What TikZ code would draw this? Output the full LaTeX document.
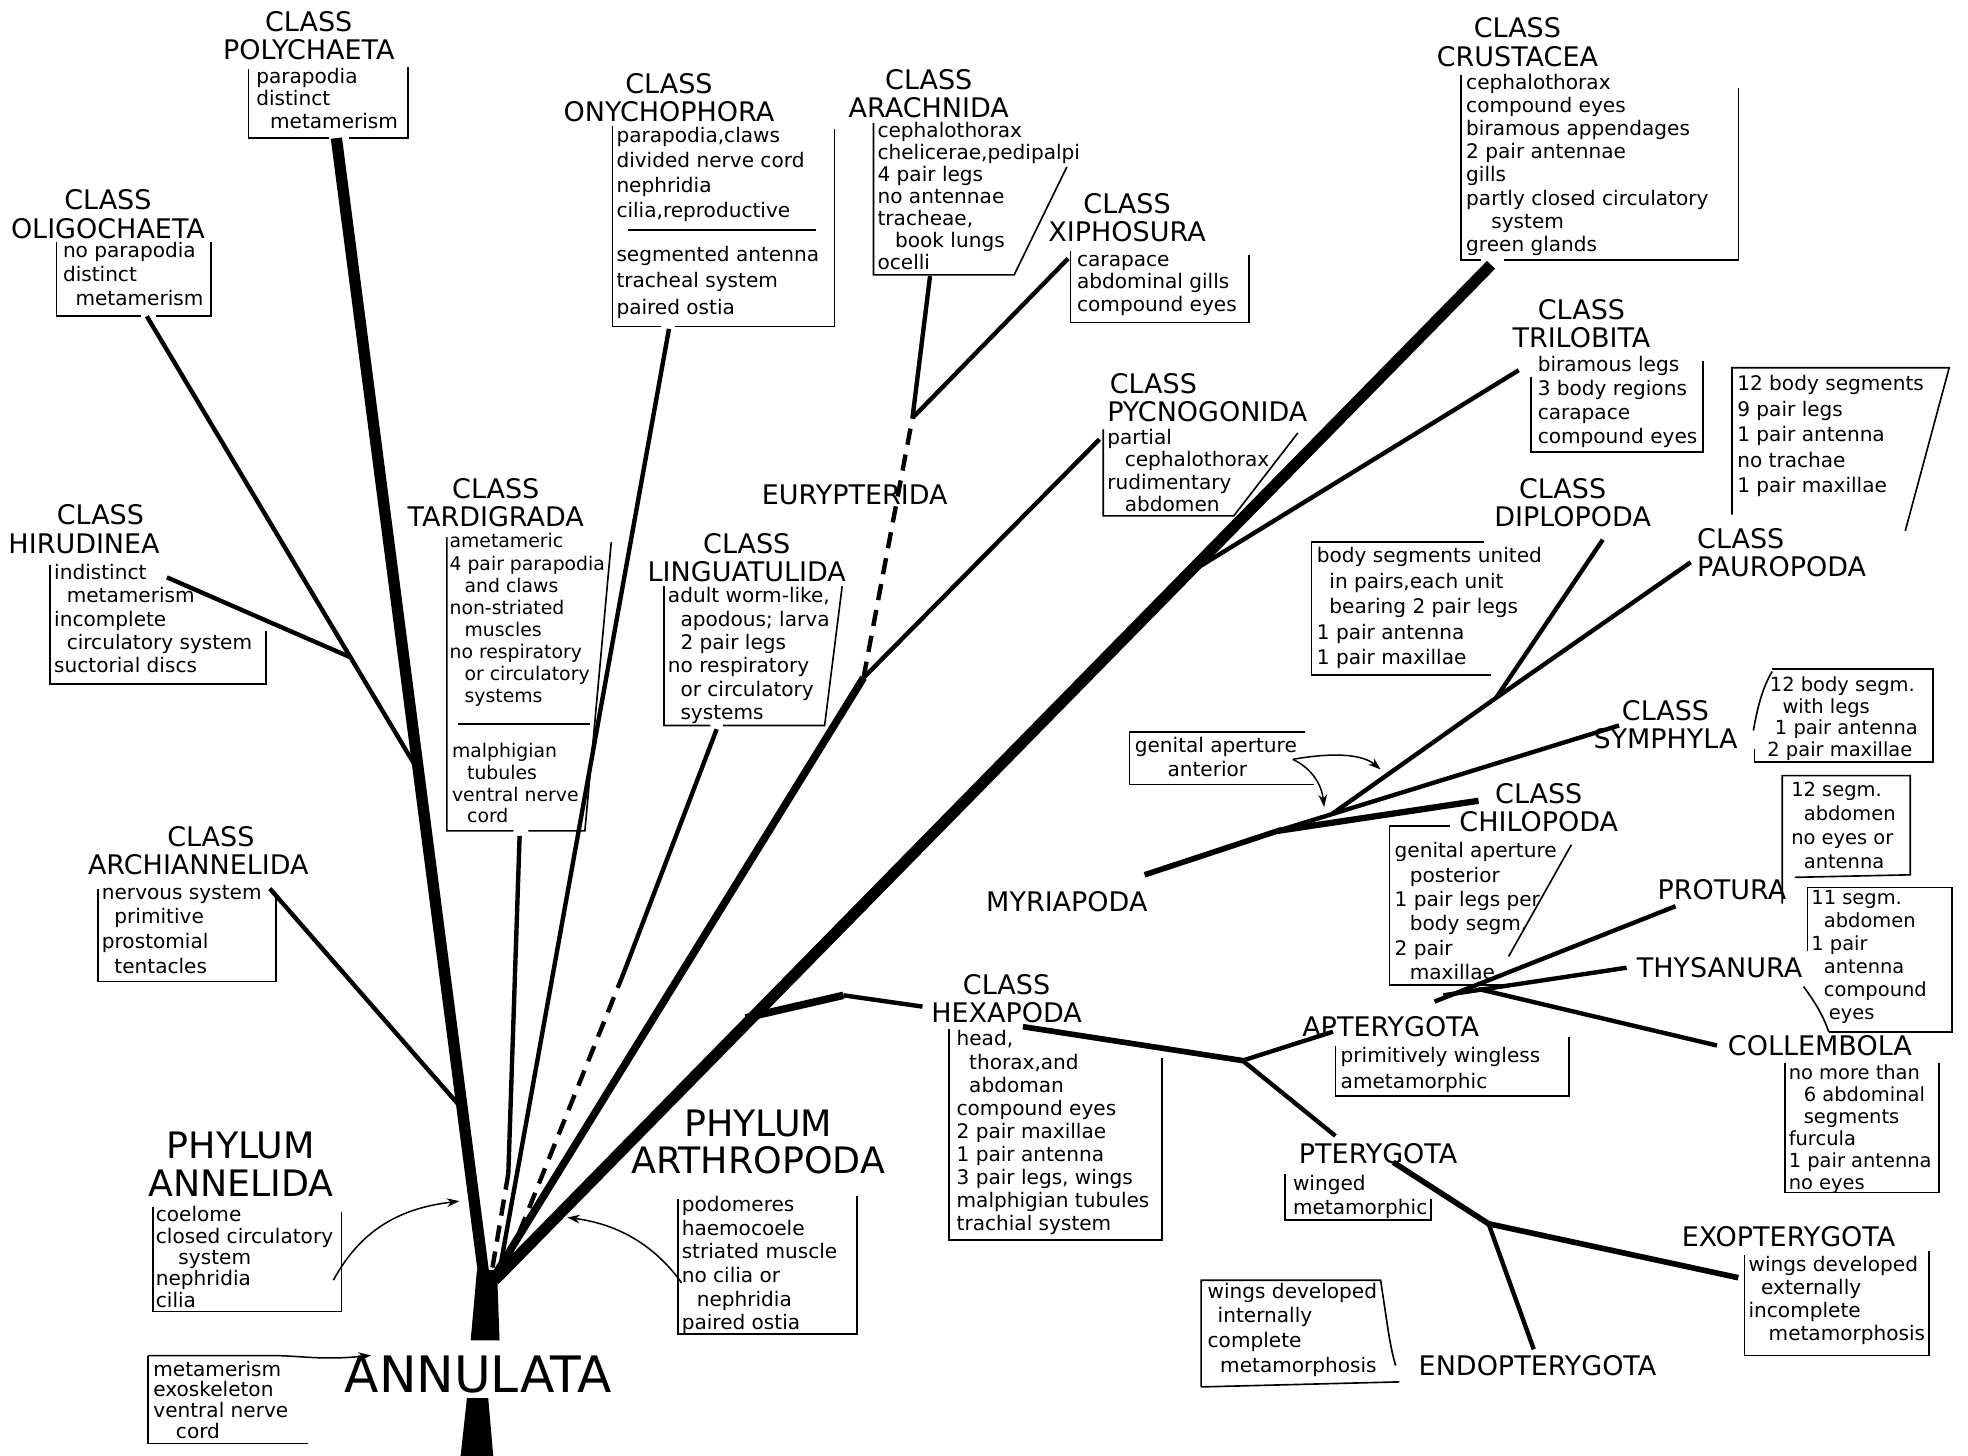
\documentclass[tikz,border=0pt]{standalone}
\usepackage{fontspec}
\setmainfont{DejaVu Sans}
\usetikzlibrary{arrows.meta}

\tikzset{
  title/.style={font=\fontsize{21.5}{22.5}\selectfont,align=center,anchor=north,inner sep=0pt},
  taxon/.style={font=\fontsize{21.5}{22.5}\selectfont,inner sep=0pt},
  phylum/.style={font=\fontsize{29}{30}\selectfont,align=center,anchor=north,inner sep=0pt},
  trait/.style={font=\fontsize{16}{#1}\selectfont,align=left,anchor=north west,inner sep=0pt},
  trait/.default=18.6,
  boxline/.style={line width=1.3pt},
  twig/.style={line width=3.5pt},
  limb/.style={line width=6pt},
  bough/.style={line width=9pt},
  faint/.style={line width=3.5pt,dash pattern=on 13pt off 8pt},
  pointer/.style={line width=1.2pt,-{Stealth[length=10pt,width=7pt]}}
}

\begin{document}
\begin{tikzpicture}[x=1pt,y=-1pt]

\fill[white] (0,0) rectangle (1568,1160);
\useasboundingbox (0,0) rectangle (1568,1160);

\node[title](polyT) at (246,9){CLASS\\POLYCHAETA};
\node[trait=18](polyB) at (204,54){parapodia\\distinct\\\hspace*{11pt}metamerism};
\draw[boxline] (198,55) -- (198,110) -- (262,110) (278,110) -- (325,110) -- (325,53);

\node[title](oligT) at (86,151){CLASS\\OLIGOCHAETA};
\node[trait=19](oligB) at (50,193){no parapodia\\distinct\\\hspace*{10pt}metamerism};
\draw[boxline] (45,193) -- (45,252) -- (112,252) (124,252) -- (168,252) -- (168,193);

\node[title](hiruT) at (67,402){\hspace*{26pt}CLASS\\HIRUDINEA};
\node[trait=18.7](hiruB) at (43,449){indistinct\\\hspace*{10pt}metamerism\\incomplete\\\hspace*{10pt}circulatory system\\suctorial discs};
\draw[boxline] (40,450) -- (40,545) -- (212,545) -- (212,503);

\node[title](archT) at (158,658){\hspace*{20pt}CLASS\\ARCHIANNELIDA};
\node[trait=19.7](archB) at (81,705){nervous system\\\hspace*{10pt}primitive\\prostomial\\\hspace*{10pt}tentacles};
\draw[boxline] (78,708) -- (78,782) -- (220,782) -- (220,712);

\node[phylum](anneT) at (192,902){PHYLUM\\ANNELIDA};
\node[trait=17](anneB) at (124,961){coelome\\closed circulatory\\\hspace*{18pt}system\\nephridia\\cilia};
\draw[boxline] (122,962) -- (122,1045) -- (272,1045) -- (272,966);

\node[trait=16.5](metaB) at (122,1084){metamerism\\exoskeleton\\ventral nerve\\\hspace*{18pt}cord};
\draw[boxline] (118,1080) -- (118,1150) -- (245,1150);
\node[font=\fontsize{40}{40}\selectfont,inner sep=0pt](annul) at (381,1095){ANNULATA};

\node[phylum](arthT) at (604,884){PHYLUM\\ARTHROPODA};
\node[trait=18.8](arthB) at (543,953){podomeres\\haemocoele\\striated muscle\\no cilia or\\\hspace*{12pt}nephridia\\paired ostia};
\draw[boxline] (540,955) -- (540,1063) -- (683,1063) -- (683,953);

\node[title](tardT) at (395,381){CLASS\\TARDIGRADA};
\node[trait=17.6,font=\fontsize{15}{17.6}\selectfont](tardA) at (358,425){ametameric\\4 pair parapodia\\\hspace*{12pt}and claws\\non-striated\\\hspace*{12pt}muscles\\no respiratory\\\hspace*{12pt}or circulatory\\\hspace*{12pt}systems};
\node[trait=17.3,font=\fontsize{15}{17.3}\selectfont](tardB) at (360,592){malphigian\\\hspace*{12pt}tubules\\ventral nerve\\\hspace*{12pt}cord};
\draw[boxline] (356,428) -- (356,662) -- (409,662) (421,662) -- (466,662) -- (487,432);
\draw[boxline] (365,577) -- (470,577);

\node[title](onycT) at (533,58){CLASS\\ONYCHOPHORA};
\node[trait=20](onycA) at (491,101){parapodia,claws\\divided nerve cord\\nephridia\\cilia,reproductive};
\node[trait=21](onycB) at (491,196){segmented antenna\\tracheal system\\paired ostia};
\draw[boxline] (488,100) -- (488,260) -- (527,260) (538,260) -- (665,260) -- (665,103);
\draw[boxline] (500,183) -- (650,183);

\node[title](aracT) at (740,55){CLASS\\ARACHNIDA};
\node[trait=17.5](aracB) at (699,97){cephalothorax\\chelicerae,pedipalpi\\4 pair legs\\no antennae\\tracheae,\\\hspace*{14pt}book lungs\\ocelli};
\draw[boxline] (696,98) -- (696,219) -- (808,219) -- (850,133);

\node[title](xiphT) at (898,154){CLASS\\XIPHOSURA};
\node[trait=18](xiphB) at (858,203){carapace\\abdominal gills\\compound eyes};
\draw[boxline] (853,200) -- (853,257) -- (995,257) -- (995,203);

\node[taxon](eury) at (681,394){EURYPTERIDA};

\node[title](lingT) at (595,425){CLASS\\LINGUATULIDA};
\node[trait=18.6](lingB) at (532,468){adult worm-like,\\\hspace*{10pt}apodous; larva\\\hspace*{10pt}2 pair legs\\no respiratory\\\hspace*{10pt}or circulatory\\\hspace*{10pt}systems};
\draw[boxline] (529,467) -- (529,578) -- (566,578) (576,578) -- (657,578) -- (671,467);

\node[title,align=left,anchor=north west](pycnT) at (882,297){\hspace*{2pt}CLASS\\PYCNOGONIDA};
\node[trait=17.7](pycnB) at (882,342){partial\\\hspace*{14pt}cephalothorax\\rudimentary\\\hspace*{14pt}abdomen};
\draw[boxline] (879,342) -- (879,411) -- (983,411) -- (1034,345);

\node[title](crusT) at (1209,14){CLASS\\CRUSTACEA};
\node[trait=18.4](crusB) at (1168,59){cephalothorax\\compound eyes\\biramous appendages\\2 pair antennae\\gills\\partly closed circulatory\\\hspace*{20pt}system\\green glands};
\draw[boxline] (1164,60) -- (1164,207) -- (1180,207) (1198,207) -- (1385,207) -- (1385,70);

\node[title](triT) at (1260,238){CLASS\\TRILOBITA};
\node[trait=19](triB) at (1225,284){biramous legs\\3 body regions\\carapace\\compound eyes};
\draw[boxline] (1220,300) -- (1220,360) -- (1357,360) -- (1357,288);

\node[trait=20.3](paurB) at (1384,299){12 body segments\\9 pair legs\\1 pair antenna\\no trachae\\1 pair maxillae};
\draw[boxline] (1380,410) -- (1380,293) -- (1553,293) -- (1518,423);
\node[title,align=left,anchor=north west](paurT) at (1352,421){CLASS\\PAUROPODA};

\node[title](dipT) at (1253,381){CLASS\hspace*{16pt}\\DIPLOPODA};
\node[trait=20.3](dipB) at (1049,436){body segments united\\\hspace*{10pt}in pairs,each unit\\\hspace*{10pt}bearing 2 pair legs\\1 pair antenna\\1 pair maxillae};
\draw[boxline] (1182,432) -- (1045,432) -- (1045,538) -- (1188,538);

\node[title](symT) at (1327,558){CLASS\\SYMPHYLA};
\node[trait=17.3,font=\fontsize{15.5}{17.3}\selectfont](symB) at (1408,539){\hspace*{2pt}12 body segm.\\\hspace*{12pt}with legs\\\hspace*{6pt}1 pair antenna\\2 pair maxillae};
\draw[boxline] (1412,533) -- (1540,533) -- (1540,607) -- (1398,607) -- (1398,597);
\draw[boxline] (1412,535) .. controls (1404,548) and (1400,565) .. (1397,582);

\node[trait=19](genB) at (904,587){genital aperture\\\hspace*{26pt}anterior};
\draw[boxline] (1040,583) -- (900,583) -- (900,625) -- (1047,625);

\node[title](chiT) at (1226,624){CLASS\\CHILOPODA};
\node[trait=19.4](chiB) at (1111,671){genital aperture\\\hspace*{12pt}posterior\\1 pair legs per\\\hspace*{12pt}body segm.\\2 pair\\\hspace*{12pt}maxillae};
\draw[boxline] (1155,658) -- (1107,658) -- (1107,785) -- (1200,785);
\draw[boxline] (1252,673) -- (1202,762);

\node[taxon](myr) at (850,718){MYRIAPODA};

\node[title](hexT) at (802,776){CLASS\\HEXAPODA};
\node[trait=18.4](hexB) at (762,821){head,\\\hspace*{10pt}thorax,and\\\hspace*{10pt}abdoman\\compound eyes\\2 pair maxillae\\1 pair antenna\\3 pair legs, wings\\malphigian tubules\\trachial system};
\draw[boxline] (756,820) -- (756,988) -- (926,988) -- (926,843);

\node[taxon](aptT) at (1108,818){APTERYGOTA};
\node[trait=21](aptB) at (1068,834){primitively wingless\\ametamorphic};
\draw[boxline] (1064,833) -- (1064,873) -- (1250,873) -- (1250,826);

\node[taxon](proT) at (1372,709){PROTURA};
\node[trait=19,font=\fontsize{15.5}{19}\selectfont](proB) at (1427,623){12 segm.\\\hspace*{10pt}abdomen\\no eyes or\\\hspace*{10pt}antenna};
\draw[boxline] (1420,720) -- (1420,618) -- (1522,618) -- (1522,697) -- (1430,699);

\node[taxon](thyT) at (1370,771){THYSANURA};
\node[trait=18.4,font=\fontsize{15.5}{18.4}\selectfont](thyB) at (1443,709){11 segm.\\\hspace*{10pt}abdomen\\1 pair\\\hspace*{10pt}antenna\\\hspace*{10pt}compound\\\hspace*{14pt}eyes};
\draw[boxline] (1440,758) -- (1440,707) -- (1555,707) -- (1555,822) -- (1457,822);
\draw[boxline] (1437,786) .. controls (1447,800) and (1452,808) .. (1457,822);

\node[taxon](colT) at (1450,833){COLLEMBOLA};
\node[trait=17.6,font=\fontsize{15.5}{17.6}\selectfont](colB) at (1425,848){no more than\\\hspace*{12pt}6 abdominal\\\hspace*{12pt}segments\\furcula\\1 pair antenna\\no eyes};
\draw[boxline] (1422,847) -- (1422,950) -- (1545,950) -- (1545,847);

\node[taxon](pteT) at (1098,919){PTERYGOTA};
\node[trait=19](pteB) at (1030,936){winged\\metamorphic};
\draw[boxline] (1024,935) -- (1024,972) -- (1140,972) -- (1140,955);

\node[taxon](exoT) at (1425,985){EXOPTERYGOTA};
\node[trait=18.3](exoB) at (1393,1001){wings developed\\\hspace*{10pt}externally\\incomplete\\\hspace*{16pt}metamorphosis};
\draw[boxline] (1390,1000) -- (1390,1080) -- (1537,1080) -- (1537,997);

\node[taxon](endT) at (1225,1088){ENDOPTERYGOTA};
\node[trait=19.7](endB) at (962,1022){wings developed\\\hspace*{8pt}internally\\complete\\\hspace*{10pt}metamorphosis};
\draw[boxline] (957,1105) -- (957,1020) -- (1100,1020) -- (1103,1040) .. controls (1106,1060) and (1108,1075) .. (1112,1088);
\draw[boxline] (957,1105) -- (1115,1101);

\fill (367,1160) -- (393,1160) -- (389,1114) -- (372,1114) -- cycle;
\fill (375,1068) -- (398,1068) -- (396,1012) -- (380,1012) -- cycle;

\coordinate (ann0) at (386,1020);
\coordinate (ann1) at (268,110);
\coordinate (oli0) at (332,612);
\coordinate (oli1) at (117,252);
\coordinate (hir0) at (280,524);
\coordinate (hir1) at (133,460);
\coordinate (arc0) at (367,882);
\coordinate (arc1) at (215,708);
\coordinate (tar0) at (391,1018);
\coordinate (tarm) at (405,935);
\coordinate (tar1) at (414,666);
\coordinate (ony0) at (397,1018);
\coordinate (ony1) at (533,262);
\coordinate (lin0) at (400,1016);
\coordinate (linm) at (497,775);
\coordinate (lin1) at (571,581);
\coordinate (pyc0) at (393,1018);
\coordinate (pycm) at (688,540);
\coordinate (pyc1) at (876,350);
\coordinate (ara0) at (727,333);
\coordinate (ara1) at (741,220);
\coordinate (xip1) at (851,206);
\coordinate (cru0) at (394,1020);
\coordinate (cru1) at (1188,211);
\coordinate (tri0) at (945,458);
\coordinate (tri1) at (1210,295);
\coordinate (hex0) at (594,811);
\coordinate (hexm) at (672,793);
\coordinate (hex1) at (735,802);
\coordinate (myr0) at (912,697);
\coordinate (chi0) at (1018,662);
\coordinate (chi1) at (1178,638);
\coordinate (sym0) at (1062,648);
\coordinate (sym1) at (1290,578);
\coordinate (dip0) at (1192,556);
\coordinate (dip1) at (1277,430);
\coordinate (pau1) at (1347,448);
\coordinate (ins0) at (815,818);
\coordinate (ins1) at (990,845);
\coordinate (apt1) at (1062,822);
\coordinate (pte1) at (1064,905);
\coordinate (pro0) at (1143,798);
\coordinate (pro1) at (1335,722);
\coordinate (thy0) at (1150,793);
\coordinate (thy1) at (1296,771);
\coordinate (col0) at (1178,788);
\coordinate (col1) at (1368,833);
\coordinate (pte2) at (1110,926);
\coordinate (pte3) at (1186,975);
\coordinate (exo1) at (1385,1018);
\coordinate (end1) at (1222,1075);
\coordinate (gen0) at (1030,605);
\coordinate (gen1) at (1100,613);
\coordinate (gen2) at (1055,643);

\path(ann0)edge[bough](ann1)
	(oli0)edge[twig](oli1)
	(hir0)edge[twig](hir1)
	(arc0)edge[twig](arc1)
	(tar1)edge[twig](tarm)
	(tarm)edge[faint](tar0)
	(ony0)edge[twig](ony1)
	(lin1)edge[twig](linm)
	(linm)edge[faint](lin0)
	(pyc0)edge[limb](pycm)
	(pycm)edge[twig](pyc1)
	(pycm)edge[faint](ara0)
	(ara0)edge[twig](ara1)
	(ara0)edge[twig](xip1)
	(cru0)edge[bough](cru1)
	(tri0)edge[twig](tri1)
	(hex0)edge[limb](hexm)
	(hexm)edge[twig](hex1)
	(myr0)edge[line width=4.5pt](chi0)
	(chi0)edge[line width=5pt](chi1)
	(chi0)edge[twig](sym1)
	(sym0)edge[twig](dip0)
	(dip0)edge[twig](dip1)
	(dip0)edge[twig](pau1)
	(ins0)edge[line width=4.5pt](ins1)
	(ins1)edge[twig](apt1)
	(ins1)edge[twig](pte1)
	(pro0)edge[twig](pro1)
	(thy0)edge[twig](thy1)
	(col0)edge[twig](col1)
	(pte2)edge[line width=4.5pt](pte3)
	(pte3)edge[line width=4.5pt](exo1)
	(pte3)edge[twig](end1);

\draw[pointer] (anneB.east |- 0,1020) .. controls (290,975) and (325,962) .. (366,957);
\draw[pointer] (arthB.west |- 0,1022) .. controls (520,990) and (490,975) .. (452,970);
\draw[pointer] (118,1080) -- (215,1080) .. controls (240,1080) and (255,1084) .. (annul.170);
\draw[pointer] (gen0) .. controls (1070,598) and (1088,603) .. (gen1);
\draw[pointer] (gen0) .. controls (1045,612) and (1053,625) .. (gen2);

\end{tikzpicture}
\end{document}
